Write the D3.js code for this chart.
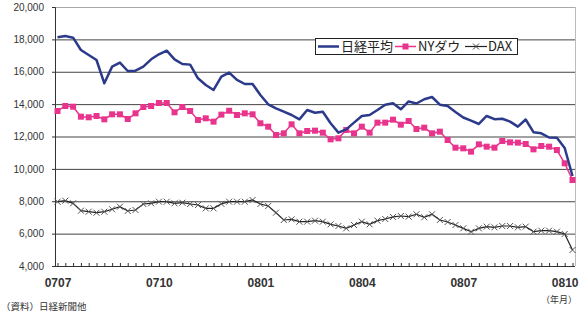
<!DOCTYPE html>
<html>
<head>
<meta charset="utf-8">
<script src="https://cdn.jsdelivr.net/npm/d3@7"></script>
<style>
  body { margin: 0; background: #fff; }
  svg { display: block; font-family: "Liberation Sans", Arial, sans-serif; }
</style>
</head>
<body>
<svg width="584" height="312"></svg>
<script>
// weekly closes, 2007/07 - 2008/10
var nikkei = [18130, 18210, 18105, 17345, 17036, 16727, 15287, 16316, 16563, 16047,
  16068, 16316, 16768, 17077, 17303, 16768, 16480, 16440, 15596, 15182,
  14873, 15700, 15946, 15494, 15244, 15244, 14564, 13989, 13742, 13532,
  13329, 13061, 13638, 13470, 13532, 12816, 12237, 12443, 12855, 13267,
  13329, 13638, 13965, 14050, 13680, 14163, 14040, 14300, 14440, 13965,
  13885, 13514, 13174, 12978, 12773, 13267, 13070, 13094, 12917, 12608,
  13050, 12266, 12196, 11937, 11928, 11290, 9560];
var nydow = [13576, 13885, 13842, 13225, 13186, 13267, 13061, 13370, 13370, 13082,
  13432, 13823, 13885, 14070, 14070, 13494, 13823, 13576, 13020, 13123,
  12917, 13350, 13590, 13329, 13432, 13370, 12816, 12608, 12093, 12196,
  12752, 12196, 12340, 12361, 12237, 11825, 11887, 12402, 12196, 12608,
  12237, 12855, 12855, 13040, 12730, 12958, 12464, 12546, 12196, 12299,
  11784, 11310, 11269, 11063, 11516, 11372, 11310, 11722, 11640, 11619,
  11537, 11207, 11413, 11372, 11166, 10345, 9313];
var dax = [7972, 8034, 7873, 7416, 7355, 7293, 7355, 7503, 7663, 7398,
  7460, 7830, 7873, 7972, 7972, 7873, 7911, 7830, 7769, 7560,
  7560, 7840, 7972, 7972, 7972, 8077, 7830, 7707, 7293, 6842,
  6883, 6739, 6739, 6800, 6739, 6574, 6471, 6327, 6533, 6739,
  6574, 6800, 6904, 7030, 7090, 7050, 7194, 7009, 7194, 6842,
  6718, 6533, 6327, 6120, 6327, 6430, 6389, 6471, 6471, 6389,
  6430, 6120, 6182, 6182, 6120, 5977, 4988];
var monthLabels = ["0707", "0710", "0801", "0804", "0807", "0810"];
var labelStep = 13;
var yTicks = [4000, 6000, 8000, 10000, 12000, 14000, 16000, 18000, 20000];

var svg = d3.select("svg");
var plotLeft = 55, plotRight = 575, plotTop = 7, plotBottom = 266;

var idx = d3.range(nikkei.length);
var x = d3.scalePoint().domain(idx).range([57.5, 572.5]);
var y = d3.scaleLinear().domain([4000, 20000]).range([plotBottom, plotTop]);

// gridlines
svg.append("g")
  .selectAll("line")
  .data(yTicks.slice(1))
  .enter().append("line")
    .attr("x1", plotLeft).attr("x2", plotRight)
    .attr("y1", function(d) { return y(d) + 0.5; })
    .attr("y2", function(d) { return y(d) + 0.5; })
    .attr("stroke", function(d) { return d == 20000 ? "#aaa" : "#444"; })
    .attr("stroke-width", 1);

// right border
svg.append("line")
  .attr("x1", plotRight + 0.5).attr("x2", plotRight + 0.5).attr("y1", plotTop).attr("y2", plotBottom)
  .attr("stroke", "#bbb");

// y axis
var yAxis = svg.append("g")
  .attr("transform", "translate(" + plotLeft + ",0)")
  .call(d3.axisLeft(y).tickValues(yTicks).tickSize(3).tickFormat(d3.format(",")));
yAxis.select(".domain").attr("stroke", "#333");
yAxis.selectAll(".tick line").attr("stroke", "#333");
yAxis.selectAll("text")
  .attr("x", -11)
  .attr("fill", "#333")
  .style("font-size", "10px");

// x axis: weekly ticks pointing up, labels every 13 weeks
var xAxis = svg.append("g")
  .attr("transform", "translate(0," + plotBottom + ")")
  .call(d3.axisBottom(x).tickSizeInner(-3).tickSizeOuter(0)
    .tickFormat(function(d) { return d % labelStep == 0 ? monthLabels[d / labelStep] : ""; }));
xAxis.select(".domain").attr("d", "M" + plotLeft + ",0.5H" + plotRight).attr("stroke", "#333");
xAxis.selectAll(".tick line").attr("stroke", "#333");
xAxis.selectAll("text")
  .attr("y", 12)
  .attr("fill", "#333")
  .style("font-size", "12px")
  .style("font-weight", "bold");

var line = function(vals) {
  return d3.line()
    .x(function(d, i) { return x(i); })
    .y(function(d) { return y(d); })(vals);
};

// DAX
svg.append("path")
  .attr("d", line(dax))
  .attr("fill", "none")
  .attr("stroke", "#222")
  .attr("stroke-width", 1.2);
svg.append("g")
  .selectAll("path")
  .data(dax)
  .enter().append("path")
    .attr("d", function(d, i) {
      var cx = x(i), cy = y(d), s = 3;
      return "M" + (cx - s) + "," + (cy - s) + "L" + (cx + s) + "," + (cy + s) +
             "M" + (cx - s) + "," + (cy + s) + "L" + (cx + s) + "," + (cy - s);
    })
    .attr("stroke", "#555")
    .attr("stroke-width", 1);

// NY Dow
svg.append("path")
  .attr("d", line(nydow))
  .attr("fill", "none")
  .attr("stroke", "#e8348c")
  .attr("stroke-width", 1.5);
svg.append("g")
  .selectAll("rect")
  .data(nydow)
  .enter().append("rect")
    .attr("x", function(d, i) { return x(i) - 3; })
    .attr("y", function(d) { return y(d) - 3; })
    .attr("width", 6).attr("height", 6)
    .attr("fill", "#e8348c");

// Nikkei
svg.append("path")
  .attr("d", line(nikkei))
  .attr("fill", "none")
  .attr("stroke", "#2b3a8a")
  .attr("stroke-width", 2.5)
  .attr("stroke-linejoin", "round");

// legend
var lg = svg.append("g");
lg.append("rect")
  .attr("x", 315.5).attr("y", 38.5).attr("width", 202).attr("height", 16)
  .attr("fill", "#fff").attr("stroke", "#222");
lg.append("line").attr("x1", 318).attr("x2", 339).attr("y1", 46.5).attr("y2", 46.5)
  .attr("stroke", "#2b3a8a").attr("stroke-width", 2.5);
lg.append("text").attr("x", 341).attr("y", 51).text("日経平均");
lg.append("line").attr("x1", 395).attr("x2", 416).attr("y1", 46.5).attr("y2", 46.5)
  .attr("stroke", "#e8348c").attr("stroke-width", 1.5);
lg.append("rect").attr("x", 402.5).attr("y", 43.5).attr("width", 6).attr("height", 6)
  .attr("fill", "#e8348c");
lg.append("text").attr("x", 418).attr("y", 51).text("NYダウ");
lg.append("line").attr("x1", 465).attr("x2", 487).attr("y1", 46.5).attr("y2", 46.5)
  .attr("stroke", "#222").attr("stroke-width", 1.2);
lg.append("path").attr("d", "M473,43.5L479,49.5M473,49.5L479,43.5").attr("stroke", "#444");
lg.append("text").attr("x", 488).attr("y", 51).text("DAX");
lg.selectAll("text")
  .attr("fill", "#222")
  .style("font-size", "13px")
  .style("font-family", "'Noto Sans CJK JP', sans-serif");

// notes
svg.append("text").attr("x", 577).attr("y", 303).attr("text-anchor", "end")
  .style("font-size", "9px").style("font-family", "'Noto Sans CJK JP', sans-serif")
  .attr("fill", "#333").text("（年月）");
svg.append("text").attr("x", 1).attr("y", 310)
  .style("font-size", "9.5px").style("font-family", "'Noto Sans CJK JP', sans-serif")
  .attr("fill", "#333").text("（資料）日経新聞他");
</script>
</body>
</html>
